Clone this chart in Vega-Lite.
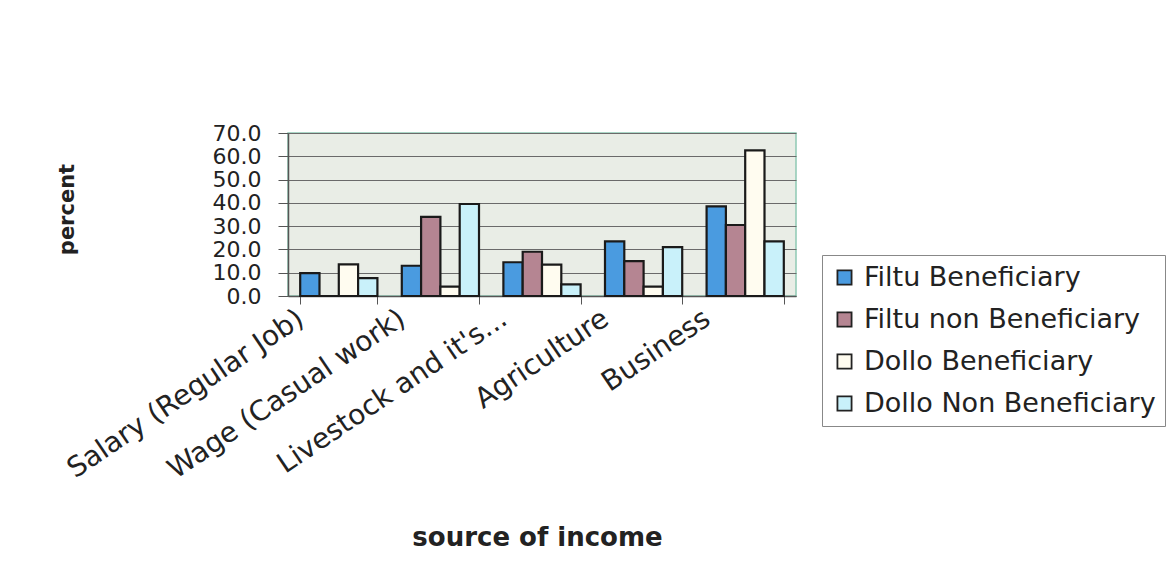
{
  "$schema": "https://vega.github.io/schema/vega-lite/v6.json",
  "autosize": {"type": "none"},
  "width": 508,
  "height": 163,
  "padding": {"left": 288, "top": 133, "right": 373, "bottom": 286},
  "background": "white",
  "data": {
    "values": [
      {"source": "Salary (Regular Job)", "group": "Filtu Beneficiary", "percent": 9.8},
      {"source": "Salary (Regular Job)", "group": "Filtu non Beneficiary", "percent": 0},
      {"source": "Salary (Regular Job)", "group": "Dollo Beneficiary", "percent": 13.6},
      {"source": "Salary (Regular Job)", "group": "Dollo Non Beneficiary", "percent": 7.7},
      {"source": "Wage (Casual work)", "group": "Filtu Beneficiary", "percent": 13.0},
      {"source": "Wage (Casual work)", "group": "Filtu non Beneficiary", "percent": 34.0},
      {"source": "Wage (Casual work)", "group": "Dollo Beneficiary", "percent": 4.0},
      {"source": "Wage (Casual work)", "group": "Dollo Non Beneficiary", "percent": 39.5},
      {"source": "Livestock and it's...", "group": "Filtu Beneficiary", "percent": 14.5},
      {"source": "Livestock and it's...", "group": "Filtu non Beneficiary", "percent": 19.0},
      {"source": "Livestock and it's...", "group": "Dollo Beneficiary", "percent": 13.5},
      {"source": "Livestock and it's...", "group": "Dollo Non Beneficiary", "percent": 5.0},
      {"source": "Agriculture", "group": "Filtu Beneficiary", "percent": 23.5},
      {"source": "Agriculture", "group": "Filtu non Beneficiary", "percent": 15.0},
      {"source": "Agriculture", "group": "Dollo Beneficiary", "percent": 4.0},
      {"source": "Agriculture", "group": "Dollo Non Beneficiary", "percent": 21.0},
      {"source": "Business", "group": "Filtu Beneficiary", "percent": 38.5},
      {"source": "Business", "group": "Filtu non Beneficiary", "percent": 30.5},
      {"source": "Business", "group": "Dollo Beneficiary", "percent": 62.5},
      {"source": "Business", "group": "Dollo Non Beneficiary", "percent": 23.5}
    ]
  },
  "mark": {"type": "bar", "stroke": "#1a1a1a", "strokeWidth": 2.2, "opacity": 1},
  "encoding": {
    "x": {
      "field": "source",
      "type": "nominal",
      "sort": ["Salary (Regular Job)", "Wage (Casual work)", "Livestock and it's...", "Agriculture", "Business"],
      "scale": {"paddingInner": 0.24, "paddingOuter": 0.12},
      "axis": {
        "title": "source of income",
        "titleFont": "DejaVu Sans",
        "titleFontWeight": "bold",
        "titleFontSize": 26,
        "titleColor": "#222",
        "titleX": 249,
        "titleY": 241,
        "titleBaseline": "middle",
        "titleAlign": "center",
        "labelFont": "DejaVu Sans",
        "labelFontSize": 28,
        "labelColor": "#222",
        "labelAngle": -34,
        "labelAlign": "right",
        "labelBaseline": "middle",
        "labelOffset": -38,
        "labelPadding": 12,
        "labelLimit": 0,
        "labelOverlap": false,
        "tickBand": "extent",
        "tickSize": 8,
        "tickColor": "#555",
        "domainColor": "#555",
        "domainWidth": 1.5,
        "grid": false
      }
    },
    "xOffset": {
      "field": "group",
      "type": "nominal",
      "sort": ["Filtu Beneficiary", "Filtu non Beneficiary", "Dollo Beneficiary", "Dollo Non Beneficiary"],
      "scale": {"paddingInner": 0, "paddingOuter": 0}
    },
    "y": {
      "field": "percent",
      "type": "quantitative",
      "scale": {"domain": [0, 70], "nice": false},
      "axis": {
        "title": "percent",
        "titleFont": "DejaVu Sans",
        "titleFontWeight": "bold",
        "titleFontSize": 21,
        "titleColor": "#222",
        "titleAngle": -90,
        "titleX": -221,
        "titleY": 76,
        "titleBaseline": "middle",
        "titleAlign": "center",
        "values": [0, 10, 20, 30, 40, 50, 60, 70],
        "format": ".1f",
        "labelFont": "DejaVu Sans",
        "labelFontSize": 22,
        "labelColor": "#222",
        "labelPadding": 17,
        "labelOverlap": false,
        "labelFlush": false,
        "tickSize": 10,
        "tickColor": "#555",
        "domainColor": "#555",
        "domainWidth": 1.5,
        "grid": true,
        "gridColor": "#6a6a6a",
        "gridWidth": 1.2
      }
    },
    "color": {
      "field": "group",
      "type": "nominal",
      "sort": ["Filtu Beneficiary", "Filtu non Beneficiary", "Dollo Beneficiary", "Dollo Non Beneficiary"],
      "scale": {
        "domain": ["Filtu Beneficiary", "Filtu non Beneficiary", "Dollo Beneficiary", "Dollo Non Beneficiary"],
        "range": ["#4a9be0", "#b58592", "#fffcf0", "#c9f1fa"]
      },
      "legend": {
        "title": null,
        "orient": "none",
        "legendX": 534,
        "legendY": 122,
        "padding": 9,
        "strokeColor": "#888",
        "fillColor": "white",
        "labelFont": "DejaVu Sans",
        "labelFontSize": 27,
        "labelColor": "#222",
        "labelLimit": 0,
        "labelOffset": 6,
        "rowPadding": 14,
        "symbolType": "square",
        "symbolSize": 200,
        "symbolStrokeColor": "#222",
        "symbolStrokeWidth": 1.8,
        "symbolOpacity": 1
      }
    }
  },
  "config": {
    "view": {"fill": "#e9ede6", "stroke": "#8fc9b4", "strokeWidth": 1.5}
  }
}
